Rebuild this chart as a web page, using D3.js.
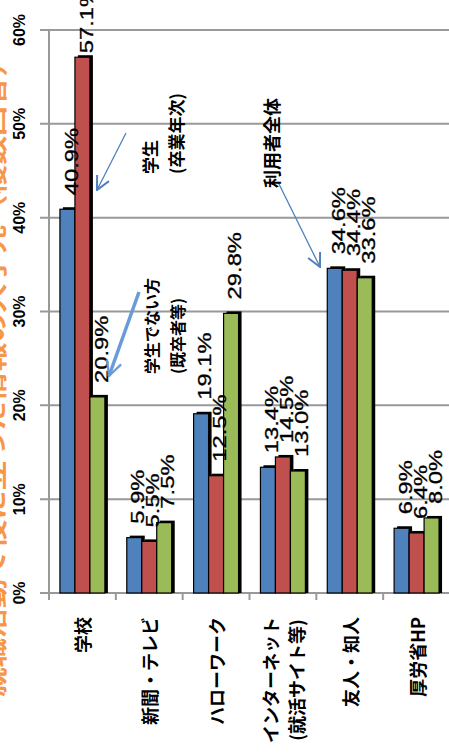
<!DOCTYPE html>
<html>
<head>
<meta charset="utf-8">
<script src="https://cdn.jsdelivr.net/npm/d3@7"></script>
<style>
  body { margin: 0; background: #fff; overflow: hidden; }
</style>
</head>
<body>
<div id="chart"></div>
<script>
// data
const categories = ['学校', '新聞・テレビ', 'ハローワーク', 'インターネット\n(就活サイト等)', '友人・知人', '厚労省HP'];
const seriesNames = ['利用者全体', '学生（卒業年次）', '学生でない方（既卒者等）'];
const allUsers = [40.9, 5.9, 19.1, 13.4, 34.6, 6.9];
const students = [57.1, 5.5, 12.5, 14.5, 34.4, 6.4];
const nonStudents = [20.9, 7.5, 29.8, 13.0, 33.6, 8.0];
const yTicks = [0, 10, 20, 30, 40, 50, 60];
const colors = ['#4f81bd', '#c0504d', '#9bbb59'];

const W = 449, H = 754;
const latin = '"Liberation Sans", Arial, sans-serif';
const cjk = '"Noto Sans CJK JP", "Noto Sans", sans-serif';

const svg = d3.select('#chart').append('svg')
  .attr('width', W)
  .attr('height', H);

// scales
const y = d3.scaleLinear().domain([0, 60]).range([593, 30]);
const x0 = d3.scaleBand().domain(categories).range([49, 450]);
const x1 = d3.scaleBand().domain([0, 1, 2])
  .range([0, x0.bandwidth()])
  .paddingInner(0)
  .paddingOuter(0.73);

// orange axis title, mostly cut off at the left edge
svg.append('text')
  .attr('transform', `translate(4, 372) rotate(-90)`)
  .attr('text-anchor', 'middle')
  .attr('font-family', cjk)
  .attr('font-weight', 'bold')
  .attr('font-size', 24)
  .attr('fill', '#f79646')
  .attr('textLength', 650)
  .attr('lengthAdjust', 'spacingAndGlyphs')
  .text('就職活動で役に立った情報の入手先（複数回答）');

// gridlines
svg.append('g').selectAll('line')
  .data(yTicks.filter(t => t > 0))
  .join('line')
  .attr('x1', 40).attr('x2', W)
  .attr('y1', d => y(d)).attr('y2', d => y(d))
  .attr('stroke', '#999').attr('stroke-width', 2);

// y axis line + tick labels
svg.append('line')
  .attr('x1', x0.range()[0]).attr('x2', x0.range()[0])
  .attr('y1', y(60)).attr('y2', y(0))
  .attr('stroke', '#999').attr('stroke-width', 2);

svg.append('g').selectAll('text')
  .data(yTicks)
  .join('text')
  .attr('transform', d => `translate(19, ${y(d)}) rotate(-90)`)
  .attr('text-anchor', 'middle')
  .attr('dominant-baseline', 'central')
  .attr('font-family', latin)
  .attr('font-weight', 'bold')
  .attr('font-size', 16)
  .attr('fill', '#000')
  .text(d => d + '%');

// bottom axis
svg.append('line')
  .attr('x1', 40).attr('x2', W)
  .attr('y1', y(0)).attr('y2', y(0))
  .attr('stroke', '#999').attr('stroke-width', 2);

svg.append('g').selectAll('line')
  .data(categories)
  .join('line')
  .attr('x1', d => x0(d)).attr('x2', d => x0(d))
  .attr('y1', y(0)).attr('y2', y(0) + 7)
  .attr('stroke', '#999').attr('stroke-width', 2);

// bars
const rows = categories.map((c, i) => ({ c, vals: [allUsers[i], students[i], nonStudents[i]] }));

const groups = svg.append('g').selectAll('g')
  .data(rows)
  .join('g')
  .attr('transform', d => `translate(${x0(d.c)},0)`);

const bars = groups.selectAll('g')
  .data(d => d.vals.map((v, j) => ({ v, j })))
  .join('g');

// shadow
bars.append('rect')
  .attr('x', d => x1(d.j) + 3)
  .attr('y', d => y(d.v) - 2)
  .attr('width', x1.bandwidth())
  .attr('height', d => y(0) - y(d.v) + 2)
  .attr('fill', '#000');

bars.append('rect')
  .attr('x', d => x1(d.j))
  .attr('y', d => y(d.v))
  .attr('width', x1.bandwidth())
  .attr('height', d => y(0) - y(d.v))
  .attr('fill', d => colors[d.j])
  .attr('stroke', '#000')
  .attr('stroke-width', 1.2);

// value labels
const labels = svg.append('g').selectAll('text')
  .data(rows.flatMap(r => r.vals.map((v, j) => ({ c: r.c, v, j }))))
  .join('text')
  .attr('text-anchor', 'start')
  .attr('dominant-baseline', 'central')
  .attr('font-family', latin)
  .attr('font-size', 19)
  .attr('stroke', '#000')
  .attr('stroke-width', 0.3)
  .attr('fill', '#000')
  .text(d => d.v.toFixed(1) + '%');

labels.each(function (d) {
  const len = this.getComputedTextLength() * 1.25;
  let bottom = y(d.v) - 14;
  if (bottom - len < -10) bottom = y(d.v) - 4;
  const cx = x0(d.c) + x1(d.j) + x1.bandwidth() / 2 + 4;
  d3.select(this).attr('transform', `translate(${cx}, ${bottom}) rotate(-90) scale(1.25,1)`);
});

// category labels
const catLabels = svg.append('g').selectAll('text')
  .data(categories)
  .join('text')
  .attr('text-anchor', 'middle')
  .attr('dominant-baseline', 'central')
  .attr('font-family', cjk)
  .attr('font-weight', 'bold')
  .attr('font-size', 18)
  .attr('fill', '#000');

catLabels.each(function (c) {
  const lines = c.split('\n');
  const t = d3.select(this);
  const lh = 26;
  lines.forEach((l, i) => {
    t.append('tspan')
      .attr('x', 0)
      .attr('y', (i - (lines.length - 1) / 2) * lh)
      .text(l);
  });
  let maxLen = 0;
  t.selectAll('tspan').each(function () { maxLen = Math.max(maxLen, this.getComputedTextLength()); });
  t.attr('transform', `translate(${x0(c) + x0.bandwidth() / 2}, ${617 + maxLen / 2}) rotate(-90)`);
});

// annotations
const defs = svg.append('defs');
const mk = (id, col, w) => defs.append('marker')
  .attr('id', id)
  .attr('viewBox', '0 0 12 12')
  .attr('refX', 11).attr('refY', 6)
  .attr('markerWidth', w).attr('markerHeight', w)
  .attr('markerUnits', 'userSpaceOnUse')
  .attr('orient', 'auto')
  .append('path')
  .attr('d', 'M1,1 L11,6 L1,11')
  .attr('fill', 'none')
  .attr('stroke', col)
  .attr('stroke-width', 1.5);
mk('arr', '#4f81bd', 16);
mk('arrThick', '#6a9bd8', 18);

const arrows = [
  { x1: 126, y1: 133, x2: 97, y2: 190, m: 'arr', w: 1.3, col: '#4f81bd' },
  { x1: 139, y1: 292, x2: 109, y2: 376, m: 'arrThick', w: 3.5, col: '#6a9bd8' },
  { x1: 278, y1: 182, x2: 320, y2: 267, m: 'arr', w: 1.3, col: '#4f81bd' }
];
svg.append('g').selectAll('line')
  .data(arrows)
  .join('line')
  .attr('x1', d => d.x1).attr('y1', d => d.y1)
  .attr('x2', d => d.x2).attr('y2', d => d.y2)
  .attr('stroke', d => d.col)
  .attr('stroke-width', d => d.w)
  .attr('marker-end', d => `url(#${d.m})`);

const notes = [
  { lines: ['学生', '(卒業年次)'], x: 162, y: 174, fs: 17 },
  { lines: ['学生でない方', '(既卒者等)'], x: 164, y: 374, fs: 16 },
  { lines: ['利用者全体'], x: 271, y: 188, fs: 18 }
];
notes.forEach(n => {
  const t = svg.append('text')
    .attr('transform', `translate(${n.x}, ${n.y}) rotate(-90)`)
    .attr('text-anchor', 'start')
    .attr('dominant-baseline', 'central')
    .attr('font-family', cjk)
    .attr('font-weight', 'bold')
    .attr('font-size', n.fs)
    .attr('fill', '#000');
  n.lines.forEach((l, i) => {
    t.append('tspan')
      .attr('x', 0)
      .attr('y', (i - (n.lines.length - 1) / 2) * 26)
      .text(l);
  });
});
</script>
</body>
</html>
